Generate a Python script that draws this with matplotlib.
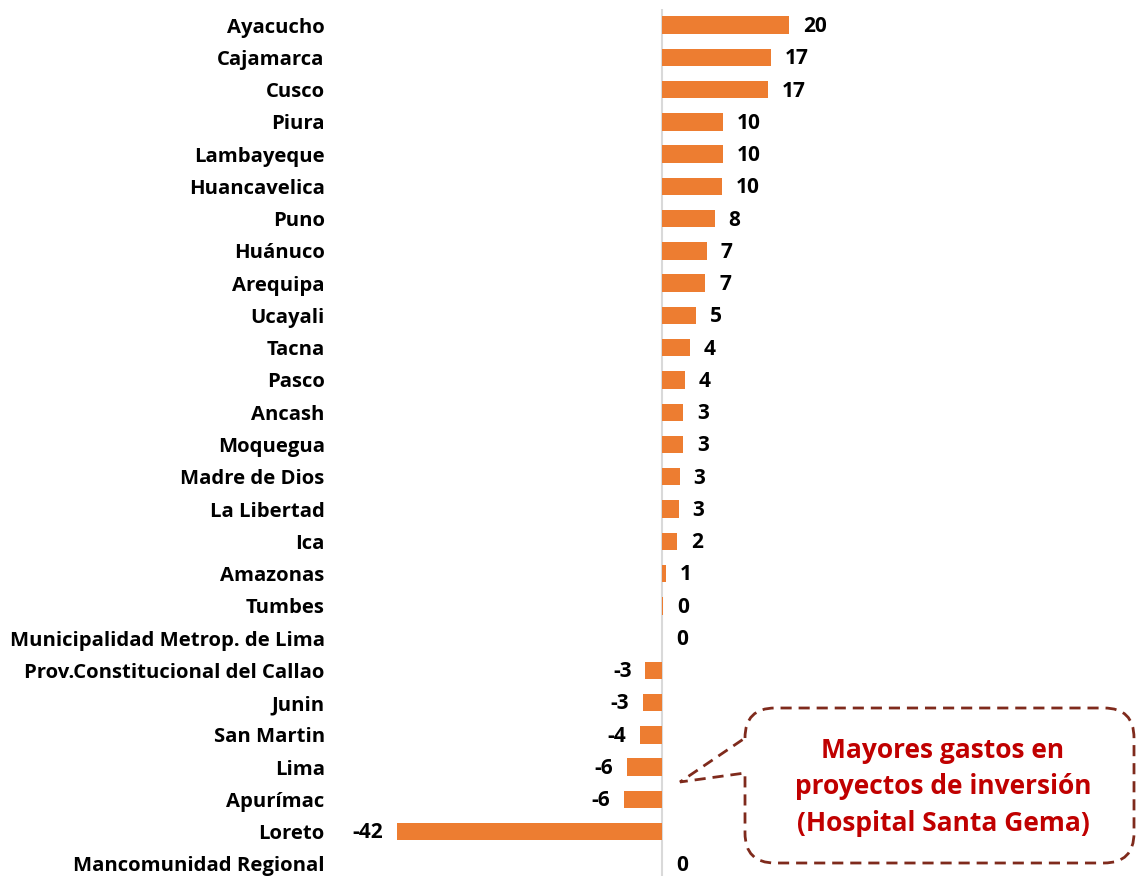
import numpy as np
import matplotlib.pyplot as plt
from matplotlib.path import Path
from matplotlib.patches import PathPatch
from matplotlib.transforms import Affine2D

# Data
regions = ["Ayacucho", "Cajamarca", "Cusco", "Piura", "Lambayeque", "Huancavelica",
           "Puno", "Huánuco", "Arequipa", "Ucayali", "Tacna", "Pasco", "Ancash",
           "Moquegua", "Madre de Dios", "La Libertad", "Ica", "Amazonas", "Tumbes",
           "Municipalidad Metrop. de Lima", "Prov.Constitucional del Callao", "Junin",
           "San Martin", "Lima", "Apurímac", "Loreto", "Mancomunidad Regional"]
values = [20.0, 17.2, 16.7, 9.6, 9.6, 9.5,
          8.3, 7.1, 6.8, 5.4, 4.4, 3.6, 3.3,
          3.3, 2.8, 2.6, 2.4, 0.6, 0.2,
          0.0, -2.6, -3.0,
          -3.5, -5.5, -6.0, -41.7, 0.0]
callout_text = "Mayores gastos en\nproyectos de inversión\n(Hospital Santa Gema)"

BAR_COLOR = "#ED7D31"
FONT = "Open Sans"
W, H = 1137, 876

plt.rcParams['font.family'] = [FONT, 'DejaVu Sans']

fig = plt.figure(figsize=(W / 100, H / 100), dpi=100)
# axes placed so zero sits at ~662 px and rows run from y=25 to y=864
ax_left, ax_right = 340, 1130
ax_top, ax_bot = 9, 880
ax = fig.add_axes([ax_left / W, (H - ax_bot) / H,
                   (ax_right - ax_left) / W, (ax_bot - ax_top) / H])
px_per_unit = 6.35
ax.set_xlim((ax_left - 662) / px_per_unit, (ax_right - 662) / px_per_unit)

y = np.arange(len(regions))
ax.barh(y, values, height=0.54, color=BAR_COLOR)
ax.set_ylim(len(regions) - 0.5, -0.5)

ax.set_yticks(y)
ax.set_yticklabels(regions, fontsize=14.6, fontweight='bold')
ax.tick_params(axis='y', length=0, pad=11)
ax.set_xticks([])
for s in ax.spines.values():
    s.set_visible(False)
ax.axvline(0, color="#D9D9D9", linewidth=1.5, zorder=0)

for yi, v in zip(y, values):
    lbl = f"{round(v):d}"
    if v < 0:
        ax.annotate(lbl, (v, yi), xytext=(-10, -1), textcoords='offset points',
                    ha='right', va='center', fontsize=15, fontweight='bold')
    else:
        ax.annotate(lbl, (v, yi), xytext=(10, -1), textcoords='offset points',
                    ha='left', va='center', fontsize=15, fontweight='bold')

# callout box with tail, in pixel coords (origin top-left)
L, R, T, B, r = 745, 1134, 708, 863, 30
tip = (680, 782)
verts = [(L, T + r), (L, T), (L + r, T),
         (R - r, T), (R, T), (R, T + r),
         (R, B - r), (R, B), (R - r, B),
         (L + r, B), (L, B), (L, B - r),
         (L, 773), tip, (L, T + r)]
codes = [Path.MOVETO, Path.CURVE3, Path.CURVE3,
         Path.LINETO, Path.CURVE3, Path.CURVE3,
         Path.LINETO, Path.CURVE3, Path.CURVE3,
         Path.LINETO, Path.CURVE3, Path.CURVE3,
         Path.LINETO, Path.LINETO, Path.CLOSEPOLY]
to_fig = Affine2D().scale(1 / W, -1 / H).translate(0, 1) + fig.transFigure
box = PathPatch(Path(verts, codes), facecolor='white', edgecolor='#7F2A1C',
                linewidth=2, linestyle=(0, (4, 2.5)), transform=to_fig,
                zorder=5)
fig.add_artist(box)
fig.text(943 / W, 1 - 787 / H, callout_text, ha='center', va='center',
         color='#C00000', fontsize=19, fontweight='bold', linespacing=1.45,
         zorder=6)

fig.savefig("out.png", dpi=100)
